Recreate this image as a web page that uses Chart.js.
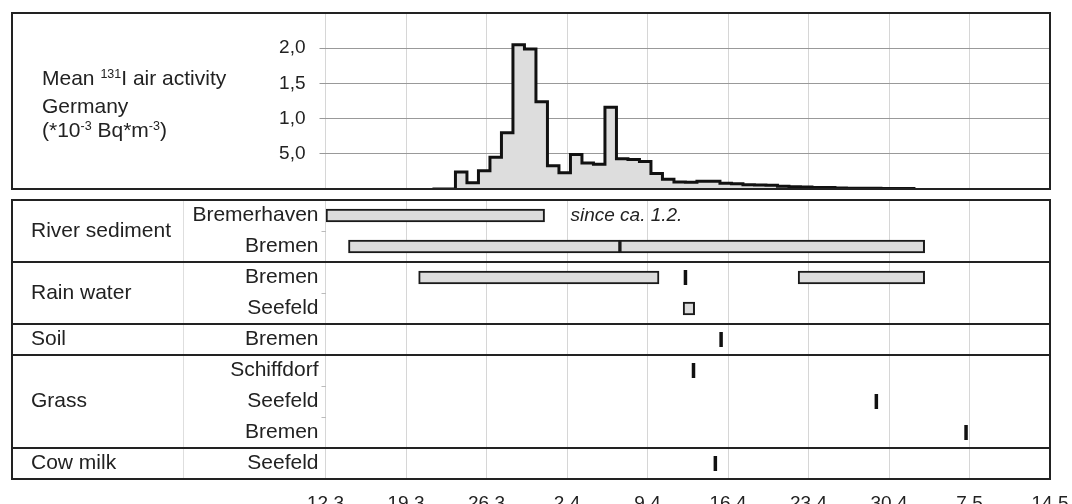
<!DOCTYPE html>
<html>
<head>
<meta charset="utf-8">
<script src="https://cdn.jsdelivr.net/npm/chart.js@4.4.0/dist/chart.umd.min.js"></script>
<style>
  body { margin: 0; background: #fff; }
  #wrap { position: relative; width: 1072px; height: 504px; overflow: hidden; font-family: 'Liberation Sans', Arial, sans-serif; }
  canvas { position: absolute; left: 0; }
  #airChart { top: 0; }
  #sampleChart { top: 195px; }
  #airLabel { position: absolute; left: 42px; top: 66px; font-size: 21px; line-height: 24.5px; color: #222; }
  #airLabel span { font-size: 12.5px; position: relative; top: -7.5px; }
</style>
</head>
<body>
<div id="wrap">
  <canvas id="airChart" width="1072" height="195"></canvas>
  <canvas id="sampleChart" width="1072" height="309"></canvas>
  <div id="airLabel">Mean <span>131</span>I air activity<br>Germany<br>(*10<span>-3</span> Bq*m<span>-3</span>)</div>
</div>
<script>
// x axis counts days from 12.3, one tick per week
const dateLabels = ['12.3', '19.3', '26.3', '2.4', '9.4', '16.4', '23.4', '30.4', '7.5', '14.5'];
const dateStep = 7;

// mean 131I air activity (Germany): start day of each daily step and its level
const airDays = [9.3, 10.3, 11.3, 12.3, 13.3, 14.3, 15.3, 16.3, 17.3, 18.3, 19.3, 20.3, 21.3, 22.3,
  23.3, 24.3, 25.3, 26.3, 27.3, 28.3, 29.3, 30.3, 31.3, 32.3, 33.3, 34.3, 35.3, 36.3, 37.3, 38.3,
  39.3, 40.3, 41.3, 42.3, 43.3, 44.3, 45.3, 46.3, 47.3, 48.3, 49.3, 50.3, 51.3];
const airValues = [0, 0, 0.24, 0.09, 0.26, 0.45, 0.80, 2.05, 1.99, 1.24, 0.33, 0.23, 0.49, 0.37,
  0.35, 1.16, 0.43, 0.42, 0.39, 0.22, 0.14, 0.10, 0.095, 0.11, 0.11, 0.08, 0.075, 0.06, 0.057, 0.055,
  0.04, 0.033, 0.03, 0.02, 0.02, 0.015, 0.012, 0.01, 0.01, 0.008, 0.007, 0.006, 0.006];
const airTickValues = [0.5, 1, 1.5, 2];
const airTickLabels = ['5,0', '1,0', '1,5', '2,0'];

// sampled media, one row each
const rowGroups = ['River sediment', 'River sediment', 'Rain water', 'Rain water', 'Soil',
  'Grass', 'Grass', 'Grass', 'Cow milk'];
const rowSites = ['Bremerhaven', 'Bremen', 'Bremen', 'Seefeld', 'Bremen',
  'Schiffdorf', 'Seefeld', 'Bremen', 'Seefeld'];

// sampling periods: row, first day, last day
const periodRows = [0, 1, 1, 2, 2, 3];
const periodStart = [0, 2, 25.6, 8.1, 41.1, 31.1];
const periodEnd = [19.05, 25.6, 52.1, 29.0, 52.1, 32.1];

// single samples: row, day
const sampleRows = [2, 4, 5, 6, 7, 8];
const sampleDays = [31.3, 34.4, 32.0, 47.9, 55.7, 33.9];

const sedimentNote = 'since ca. 1.2.';
const sedimentNoteDay = 21.3;

const FONT = "'Liberation Sans', Arial, sans-serif";
Chart.defaults.font.family = FONT;
Chart.defaults.color = '#222';

const frameLeft = 12;
const plotLeft = 325.5;
const columnDivider = 183;
const groupLabelX = 31;
const clear = 'rgba(0,0,0,0)';

const rowKeys = rowSites.map((s, i) => rowGroups[i] + ' / ' + s);

// keep the label overhang from shrinking the plot area
let noOverhang = (s) => {
    s.paddingTop = 0;
    s.paddingBottom = 0;
    s.paddingLeft = 0;
    s.paddingRight = 0;
}

let panelFrame = (chart) => {
    const a = chart.chartArea, ctx = chart.ctx;
    ctx.save();
    ctx.strokeStyle = '#222';
    ctx.lineWidth = 2;
    ctx.strokeRect(frameLeft, a.top, a.right - frameLeft, a.bottom - a.top);
    ctx.restore();
}

let airTickIndex = (v) => airTickValues.findIndex(t => Math.abs(t - v) < 1e-6);

// top panel: step curve of the air activity
new Chart(document.getElementById('airChart'), {
    type: 'line',
    data: {
        datasets: [{
            data: airDays.map((d, i) => ({ x: d, y: airValues[i] })),
            stepped: true,
            fill: 'origin',
            backgroundColor: '#dddddd',
            borderColor: '#111',
            borderWidth: 3,
            borderJoinStyle: 'miter',
            pointRadius: 0
        }]
    },
    options: {
        responsive: false,
        animation: false,
        devicePixelRatio: 1,
        layout: { autoPadding: false, padding: { top: 13, right: 22, bottom: 6, left: 0 } },
        plugins: { legend: { display: false }, tooltip: { enabled: false } },
        scales: {
            x: {
                type: 'linear', min: 0, max: 63,
                ticks: { display: false, stepSize: dateStep },
                grid: { color: '#d6d6d6', drawTicks: false },
                border: { display: false },
                afterFit: s => { s.height = 0; noOverhang(s); }
            },
            y: {
                min: 0, max: 2.5,
                ticks: {
                    stepSize: 0.5, padding: 14, font: { size: 19 }, color: '#222',
                    callback: v => { const i = airTickIndex(v); return i < 0 ? '' : airTickLabels[i]; }
                },
                grid: {
                    color: c => (c.tick && airTickIndex(c.tick.value) >= 0) ? '#999' : clear,
                    tickColor: c => (c.tick && airTickIndex(c.tick.value) >= 0) ? '#999' : clear,
                    tickLength: 6
                },
                border: { display: false },
                afterFit: s => { s.width = plotLeft; noOverhang(s); }
            }
        }
    },
    plugins: [{ id: 'frame', afterDraw: panelFrame }]
});

// bottom panel: sampling periods and single samples
new Chart(document.getElementById('sampleChart'), {
    type: 'bar',
    data: {
        labels: rowKeys,
        datasets: [{
            type: 'bar',
            data: periodRows.map((r, i) => ({ y: rowKeys[r], x: [periodStart[i], periodEnd[i]] })),
            backgroundColor: '#dcdcdc',
            borderColor: '#1a1a1a',
            borderWidth: 2,
            borderSkipped: false,
            barThickness: 13
        }, {
            type: 'scatter',
            data: sampleRows.map((r, i) => ({ x: sampleDays[i], y: rowKeys[r] })),
            pointStyle: 'line',
            pointRadius: 7.5,
            pointRotation: 90,
            pointBorderWidth: 3.5,
            pointBorderColor: '#111',
            borderColor: '#111',
            showLine: false
        }]
    },
    options: {
        indexAxis: 'y',
        responsive: false,
        animation: false,
        devicePixelRatio: 1,
        layout: { autoPadding: false, padding: { top: 5, right: 22, bottom: 0, left: 0 } },
        plugins: { legend: { display: false }, tooltip: { enabled: false } },
        scales: {
            x: {
                type: 'linear', min: 0, max: 63,
                ticks: {
                    stepSize: dateStep, padding: 13, maxRotation: 0, autoSkip: false,
                    font: { size: 19 }, color: '#222',
                    callback: v => dateLabels[Math.round(v / dateStep)]
                },
                grid: { color: '#d6d6d6', drawTicks: false },
                border: { display: false },
                afterFit: s => { s.height = 25; noOverhang(s); }
            },
            y: {
                type: 'category',
                offset: true,
                ticks: {
                    padding: 3, autoSkip: false, font: { size: 21 }, color: '#222',
                    callback: (v, i) => rowSites[i]
                },
                grid: {
                    offset: true,
                    color: clear,
                    tickLength: 4,
                    // small marks between rows of the same group
                    tickColor: c => (c.index > 0 && c.index < rowGroups.length &&
                        rowGroups[c.index] === rowGroups[c.index - 1]) ? '#bbb' : clear
                },
                border: { display: false },
                afterFit: s => { s.width = plotLeft; noOverhang(s); }
            }
        }
    },
    plugins: [{
        id: 'panel',
        beforeDatasetsDraw(chart) {
            const { ctx, chartArea: a } = chart;
            ctx.save();
            ctx.strokeStyle = '#dedede';
            ctx.lineWidth = 1;
            ctx.beginPath();
            ctx.moveTo(columnDivider + 0.5, a.top);
            ctx.lineTo(columnDivider + 0.5, a.bottom);
            ctx.stroke();
            ctx.restore();
        },
        afterDraw(chart) {
            const { ctx, chartArea: a, scales: { x, y } } = chart;
            ctx.save();
            // lines between the sample groups
            ctx.strokeStyle = '#222';
            ctx.lineWidth = 2;
            for (let k = 1; k < rowGroups.length; k++) {
                if (rowGroups[k] === rowGroups[k - 1]) continue;
                const py = y.getPixelForValue(k - 0.5);
                ctx.beginPath();
                ctx.moveTo(frameLeft, py);
                ctx.lineTo(a.right, py);
                ctx.stroke();
            }
            ctx.restore();
            panelFrame(chart);

            // group names, centred on their rows
            ctx.save();
            ctx.fillStyle = '#222';
            ctx.font = '21px ' + FONT;
            ctx.textBaseline = 'middle';
            ctx.textAlign = 'left';
            const groups = [...new Set(rowGroups)];
            groups.forEach(g => {
                const first = rowGroups.indexOf(g);
                const last = rowGroups.lastIndexOf(g);
                const py = (y.getPixelForValue(first) + y.getPixelForValue(last)) / 2;
                ctx.fillText(g, groupLabelX, py);
            });
            ctx.font = 'italic 19px ' + FONT;
            ctx.fillText(sedimentNote, x.getPixelForValue(sedimentNoteDay), y.getPixelForValue(0));
            ctx.restore();
        }
    }]
});
</script>
</body>
</html>
